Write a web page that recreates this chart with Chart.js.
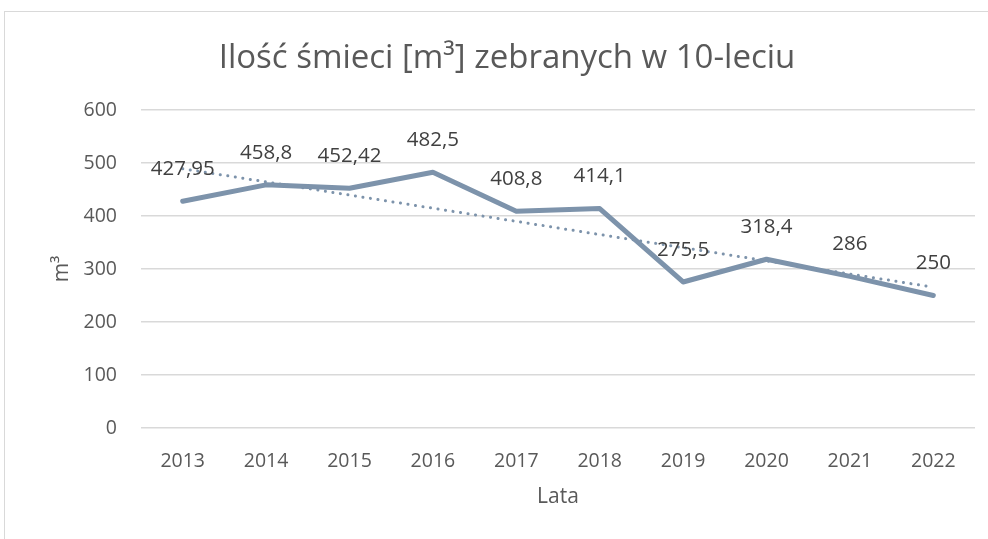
<!DOCTYPE html>
<html>
<head>
<meta charset="utf-8">
<script src="https://cdn.jsdelivr.net/npm/chart.js@4/dist/chart.umd.min.js"></script>
<style>
  html, body { margin: 0; padding: 0; background: #fff; overflow: hidden; }
  #wrap { position: relative; width: 988px; height: 539px; }
  #frame { position: absolute; left: 4px; top: 11px; width: 1100px; height: 700px; border: 1px solid #d9d9d9; }
  canvas { position: absolute; left: 0; top: 0; }
</style>
</head>
<body>
<div id="wrap">
  <div id="frame"></div>
  <canvas id="chart" width="988" height="539"></canvas>
</div>
<script>
const years = ['2013', '2014', '2015', '2016', '2017', '2018', '2019', '2020', '2021', '2022'];
const garbage = [427.95, 458.8, 452.42, 482.5, 408.8, 414.1, 275.5, 318.4, 286, 250];
const yTicks = [0, 100, 200, 300, 400, 500, 600];

const lineColor = '#7d93ab';
const font = '"Open Sans", "Noto Sans", sans-serif';

// linear trendline (least squares) over the collected values
function trend(values) {
    const n = values.length;
    let sx = 0, sy = 0, sxy = 0, sxx = 0;
    values.forEach((v, i) => {
        const x = i + 1;
        sx += x; sy += v; sxy += x * v; sxx += x * x;
    });
    const slope = (n * sxy - sx * sy) / (n * sxx - sx * sx);
    const icpt = (sy - slope * sx) / n;
    return values.map((v, i) => icpt + slope * (i + 1));
}

// value labels drawn above each point of the main series
const valueLabels = {
    id: 'valueLabels',
    afterDatasetsDraw(chart) {
        const ctx = chart.ctx;
        const meta = chart.getDatasetMeta(0);
        ctx.save();
        ctx.font = '20.5px ' + font;
        ctx.fillStyle = '#404040';
        ctx.textAlign = 'center';
        ctx.textBaseline = 'middle';
        meta.data.forEach((pt, i) => {
            const txt = String(garbage[i]).replace('.', ',');
            ctx.fillText(txt, pt.x, pt.y - 32);
        });
        ctx.restore();
    }
};

const ctx = document.getElementById('chart').getContext('2d');
new Chart(ctx, {
    type: 'line',
    data: {
        labels: years,
        datasets: [{
            label: 'Ilość',
            data: garbage,
            borderColor: lineColor,
            borderWidth: 5,
            pointRadius: 0,
            borderCapStyle: 'round',
            borderJoinStyle: 'round',
            tension: 0
        }, {
            label: 'Trend',
            data: trend(garbage),
            borderColor: lineColor,
            borderWidth: 3,
            borderDash: [0.1, 7.5],
            borderCapStyle: 'round',
            pointRadius: 0,
            tension: 0
        }]
    },
    options: {
        responsive: false,
        animation: false,
        layout: { padding: { left: 39, right: 13, top: 0, bottom: 0 } },
        scales: {
            x: {
                offset: true,
                grid: { display: false, drawTicks: false },
                border: { display: false },
                ticks: { color: '#595959', font: { family: font, size: 19.5 }, padding: 22 },
                title: {
                    display: true, text: 'Lata', color: '#595959',
                    font: { family: font, size: 21 }, padding: { top: 6, bottom: 29 }
                },
                afterFit: s => { s.height = 111; }
            },
            y: {
                min: 0, max: 600,
                afterBuildTicks: s => { s.ticks = yTicks.map(v => ({ value: v })); },
                grid: { color: '#d9d9d9', lineWidth: 1.5, drawTicks: false },
                border: { display: false },
                ticks: { color: '#595959', font: { family: font, size: 19.5 }, padding: 24 },
                title: {
                    display: true, text: 'm³', color: '#595959',
                    font: { family: font, size: 21 }, padding: { top: 10, bottom: 6 }
                },
                afterFit: s => { s.width = 102; }
            }
        },
        plugins: {
            legend: { display: false },
            tooltip: { enabled: false },
            title: {
                display: true,
                text: 'Ilość śmieci [m³] zebranych w 10-leciu',
                color: '#595959',
                font: { family: font, size: 33, weight: 'normal' },
                padding: { top: 39, bottom: 31.4 }
            }
        }
    },
    plugins: [valueLabels]
});
</script>
</body>
</html>
